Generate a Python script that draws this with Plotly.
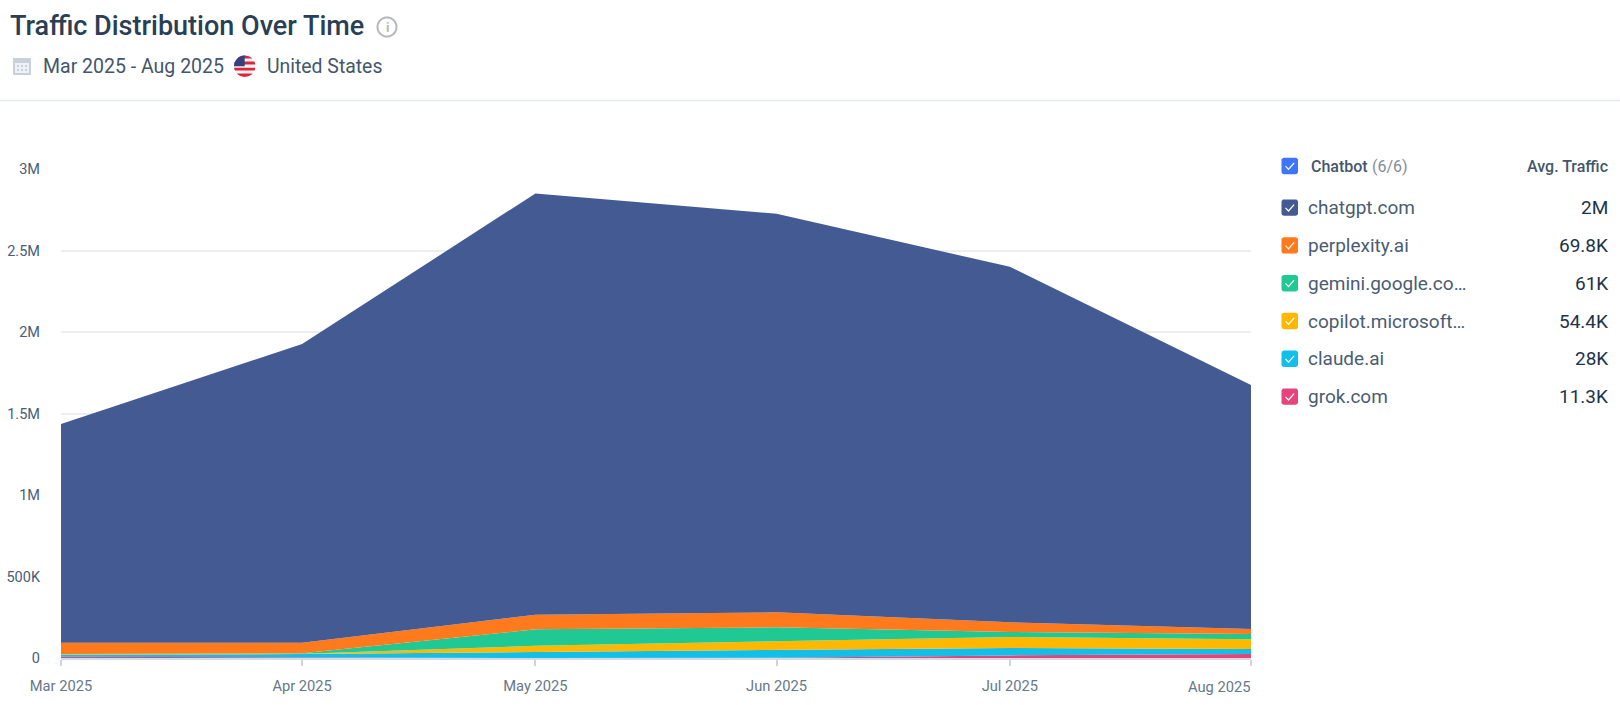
import math
import plotly.graph_objects as go

# ---------- data ----------
months = ["2025-03-01", "2025-04-01", "2025-05-01", "2025-06-01", "2025-07-01", "2025-08-01"]
month_labels = ["Mar 2025", "Apr 2025", "May 2025", "Jun 2025", "Jul 2025", "Aug 2025"]
grok = [8000, 3000, 0, 1000, 16000, 24000]
claude = [14000, 21000, 37000, 48000, 45000, 31000]
copilot = [2000, 2000, 38000, 55000, 68000, 60000]
gemini = [0, 3000, 101000, 84000, 31000, 32000]
perplexity = [70000, 65000, 90000, 92000, 59000, 31000]
chatgpt = [1342000, 1832000, 2584000, 2445000, 2181000, 1497000]

y_ticks = [0, 500000, 1000000, 1500000, 2000000, 2500000, 3000000]
y_labels = ["0", "500K", "1M", "1.5M", "2M", "2.5M", "3M"]

legend_names = ["chatgpt.com", "perplexity.ai", "gemini.google.co…", "copilot.microsoft…", "claude.ai", "grok.com"]
legend_values = ["2M", "69.8K", "61K", "54.4K", "28K", "11.3K"]
legend_colors = ["#445a93", "#fe7a1c", "#20c994", "#ffb700", "#12bfe8", "#e6447a"]

W, H = 1620, 705
L, R, T, B = 61, 1251, 169, 658


def px(x):
    return (x - L) / (R - L)


def py(y):
    return (B - y) / (B - T)


def path(points, close=True):
    s = "M" + " L".join(f"{px(x):.5f},{py(y):.5f}" for x, y in points)
    return s + (" Z" if close else "")


def rounded(x0, y0, x1, y1, r=2.5):
    pts = []
    for cx, cy, a0 in [(x1 - r, y0 + r, -90), (x1 - r, y1 - r, 0), (x0 + r, y1 - r, 90), (x0 + r, y0 + r, 180)]:
        for i in range(5):
            a = math.radians(a0 + i * 22.5)
            pts.append((cx + r * math.cos(a), cy + r * math.sin(a)))
    return pts


shapes = []
annotations = []


def shape(points, fill=None, line=None, width=0, close=True):
    shapes.append(dict(type="path", xref="paper", yref="paper", path=path(points, close),
                       fillcolor=fill if fill else "rgba(0,0,0,0)",
                       line=dict(color=line if line else "rgba(0,0,0,0)", width=width)))


def text(x, y, s, size, color, anchor="left", weight=400):
    annotations.append(dict(xref="paper", yref="paper", x=px(x), y=py(y), text=s, showarrow=False,
                            xanchor=anchor, yanchor="middle", align=anchor, borderpad=0,
                            xshift=0, font=dict(family="Roboto", size=size, color=color, weight=weight)))


def circle_pts(cx, cy, r, n=48):
    return [(cx + r * math.cos(2 * math.pi * i / n), cy + r * math.sin(2 * math.pi * i / n)) for i in range(n)]


# ---------- header ----------
text(9, 26, "Traffic Distribution Over Time", 27, "#2a3f54", weight=500)
shape(circle_pts(387, 27, 9.5), line="#b5b7bb", width=2)
text(387, 27, "i", 13, "#b5b7bb", anchor="center", weight=700)

# calendar icon
shape(rounded(13, 58, 31, 75, 1), fill="#c9d0dc")
shape([(15, 63), (29, 63), (29, 73), (15, 73)], fill="#eef1f5")
for gx in (18, 22, 26):
    for gy in (66, 70):
        shape([(gx - 1, gy - 1), (gx + 1, gy - 1), (gx + 1, gy + 1), (gx - 1, gy + 1)], fill="#c9d0dc")

text(42, 66.7, "Mar 2025 - Aug 2025", 19.5, "#44566c")

# flag
fx, fy, fr = 244.7, 66.2, 10.7
shape(circle_pts(fx, fy, fr), fill="#f4f4f4")
for top, bot in [(-10.7, -7.6), (-4.6, -1.6), (1.5, 4.4), (7.3, 10.7)]:
    ts = [top + (bot - top) * i / 6 for i in range(7)]
    left = [(fx - math.sqrt(max(fr * fr - t * t, 0)), fy + t) for t in ts]
    right = [(fx + math.sqrt(max(fr * fr - t * t, 0)), fy + t) for t in ts]
    shape(left + right[::-1], fill="#e0243c")
ts = [-10.4 + 10.4 * i / 8 for i in range(9)]
shape([(fx - math.sqrt(fr * fr - t * t), fy + t) for t in ts] + [(fx, fy), (fx, fy - fr)], fill="#33427f")

text(266, 66.7, "United States", 19.4, "#44566c")

# separator
shape([(0, 100.5), (W, 100.5)], line="#e6e9ee", width=1.5, close=False)


# ---------- legend panel ----------
def checkbox(cy, color):
    x0, x1 = 1281.5, 1298
    shape(rounded(x0, cy - 8.2, x1, cy + 8.2), fill=color)
    shape([(x0 + 4, cy + 0.2), (x0 + 7, cy + 3.4), (x0 + 12.6, cy - 3)], line="#ffffff", width=1.2, close=False)


checkbox(166, "#3e74fe")
text(1310, 166, "Chatbot", 16, "#44566c", weight=500)
text(1371, 166, "(6/6)", 16, "#7f8c9c")
text(1609, 166, "Avg. Traffic", 16, "#44566c", anchor="right", weight=500)

for i, (name, value, color) in enumerate(zip(legend_names, legend_values, legend_colors)):
    cy = 207.6 + i * 37.8
    checkbox(cy, color)
    text(1307, cy, name, 19, "#4a5c72")
    text(1609, cy, value, 19, "#1d3349", anchor="right")

# right-justified last x label
annotations.append(dict(xref="paper", yref="paper", x=1.0, xshift=2, y=py(687), text=month_labels[-1], showarrow=False,
                        xanchor="right", yanchor="middle", font=dict(family="Roboto", size=14.7, color="#66778a")))

# ---------- chart ----------
fig = go.Figure()
for name, series, color in [
    ("grok.com", grok, legend_colors[5]),
    ("claude.ai", claude, legend_colors[4]),
    ("copilot.microsoft.com", copilot, legend_colors[3]),
    ("gemini.google.com", gemini, legend_colors[2]),
    ("perplexity.ai", perplexity, legend_colors[1]),
    ("chatgpt.com", chatgpt, legend_colors[0]),
]:
    fig.add_trace(go.Scatter(x=months, y=series, name=name, mode="lines", stackgroup="one",
                             line=dict(width=0, color=color), fillcolor=color))

fig.update_layout(
    width=W, height=H,
    margin=dict(l=L, r=W - R, t=T, b=H - B, pad=0),
    paper_bgcolor="#ffffff", plot_bgcolor="#ffffff",
    showlegend=False,
    font=dict(family="Roboto"),
    shapes=shapes, annotations=annotations,
    xaxis=dict(type="date", range=[months[0], months[-1]], tickmode="array", tickvals=months, automargin=False,
               ticktext=month_labels[:-1] + [""], ticks="outside", ticklen=6, tickwidth=1.5, tickcolor="#cfd3da",
               showgrid=False, zeroline=False, showline=True, linecolor="#d5d9e0", linewidth=1.5,
               tickfont=dict(family="Roboto", size=14.7, color="#66778a"), ticklabelstandoff=8),
    yaxis=dict(range=[0, 3000000], tickmode="array", tickvals=y_ticks, ticktext=y_labels, ticks="", automargin=False,
               showgrid=True, gridcolor="#eceef2", gridwidth=1.5, zeroline=False, showline=False,
               tickfont=dict(family="Roboto", size=14.5, color="#4a5d75"), ticklabelstandoff=20),
)

fig.write_html("out.html", config=dict(displayModeBar=False), post_script="document.body.style.margin='0';")
